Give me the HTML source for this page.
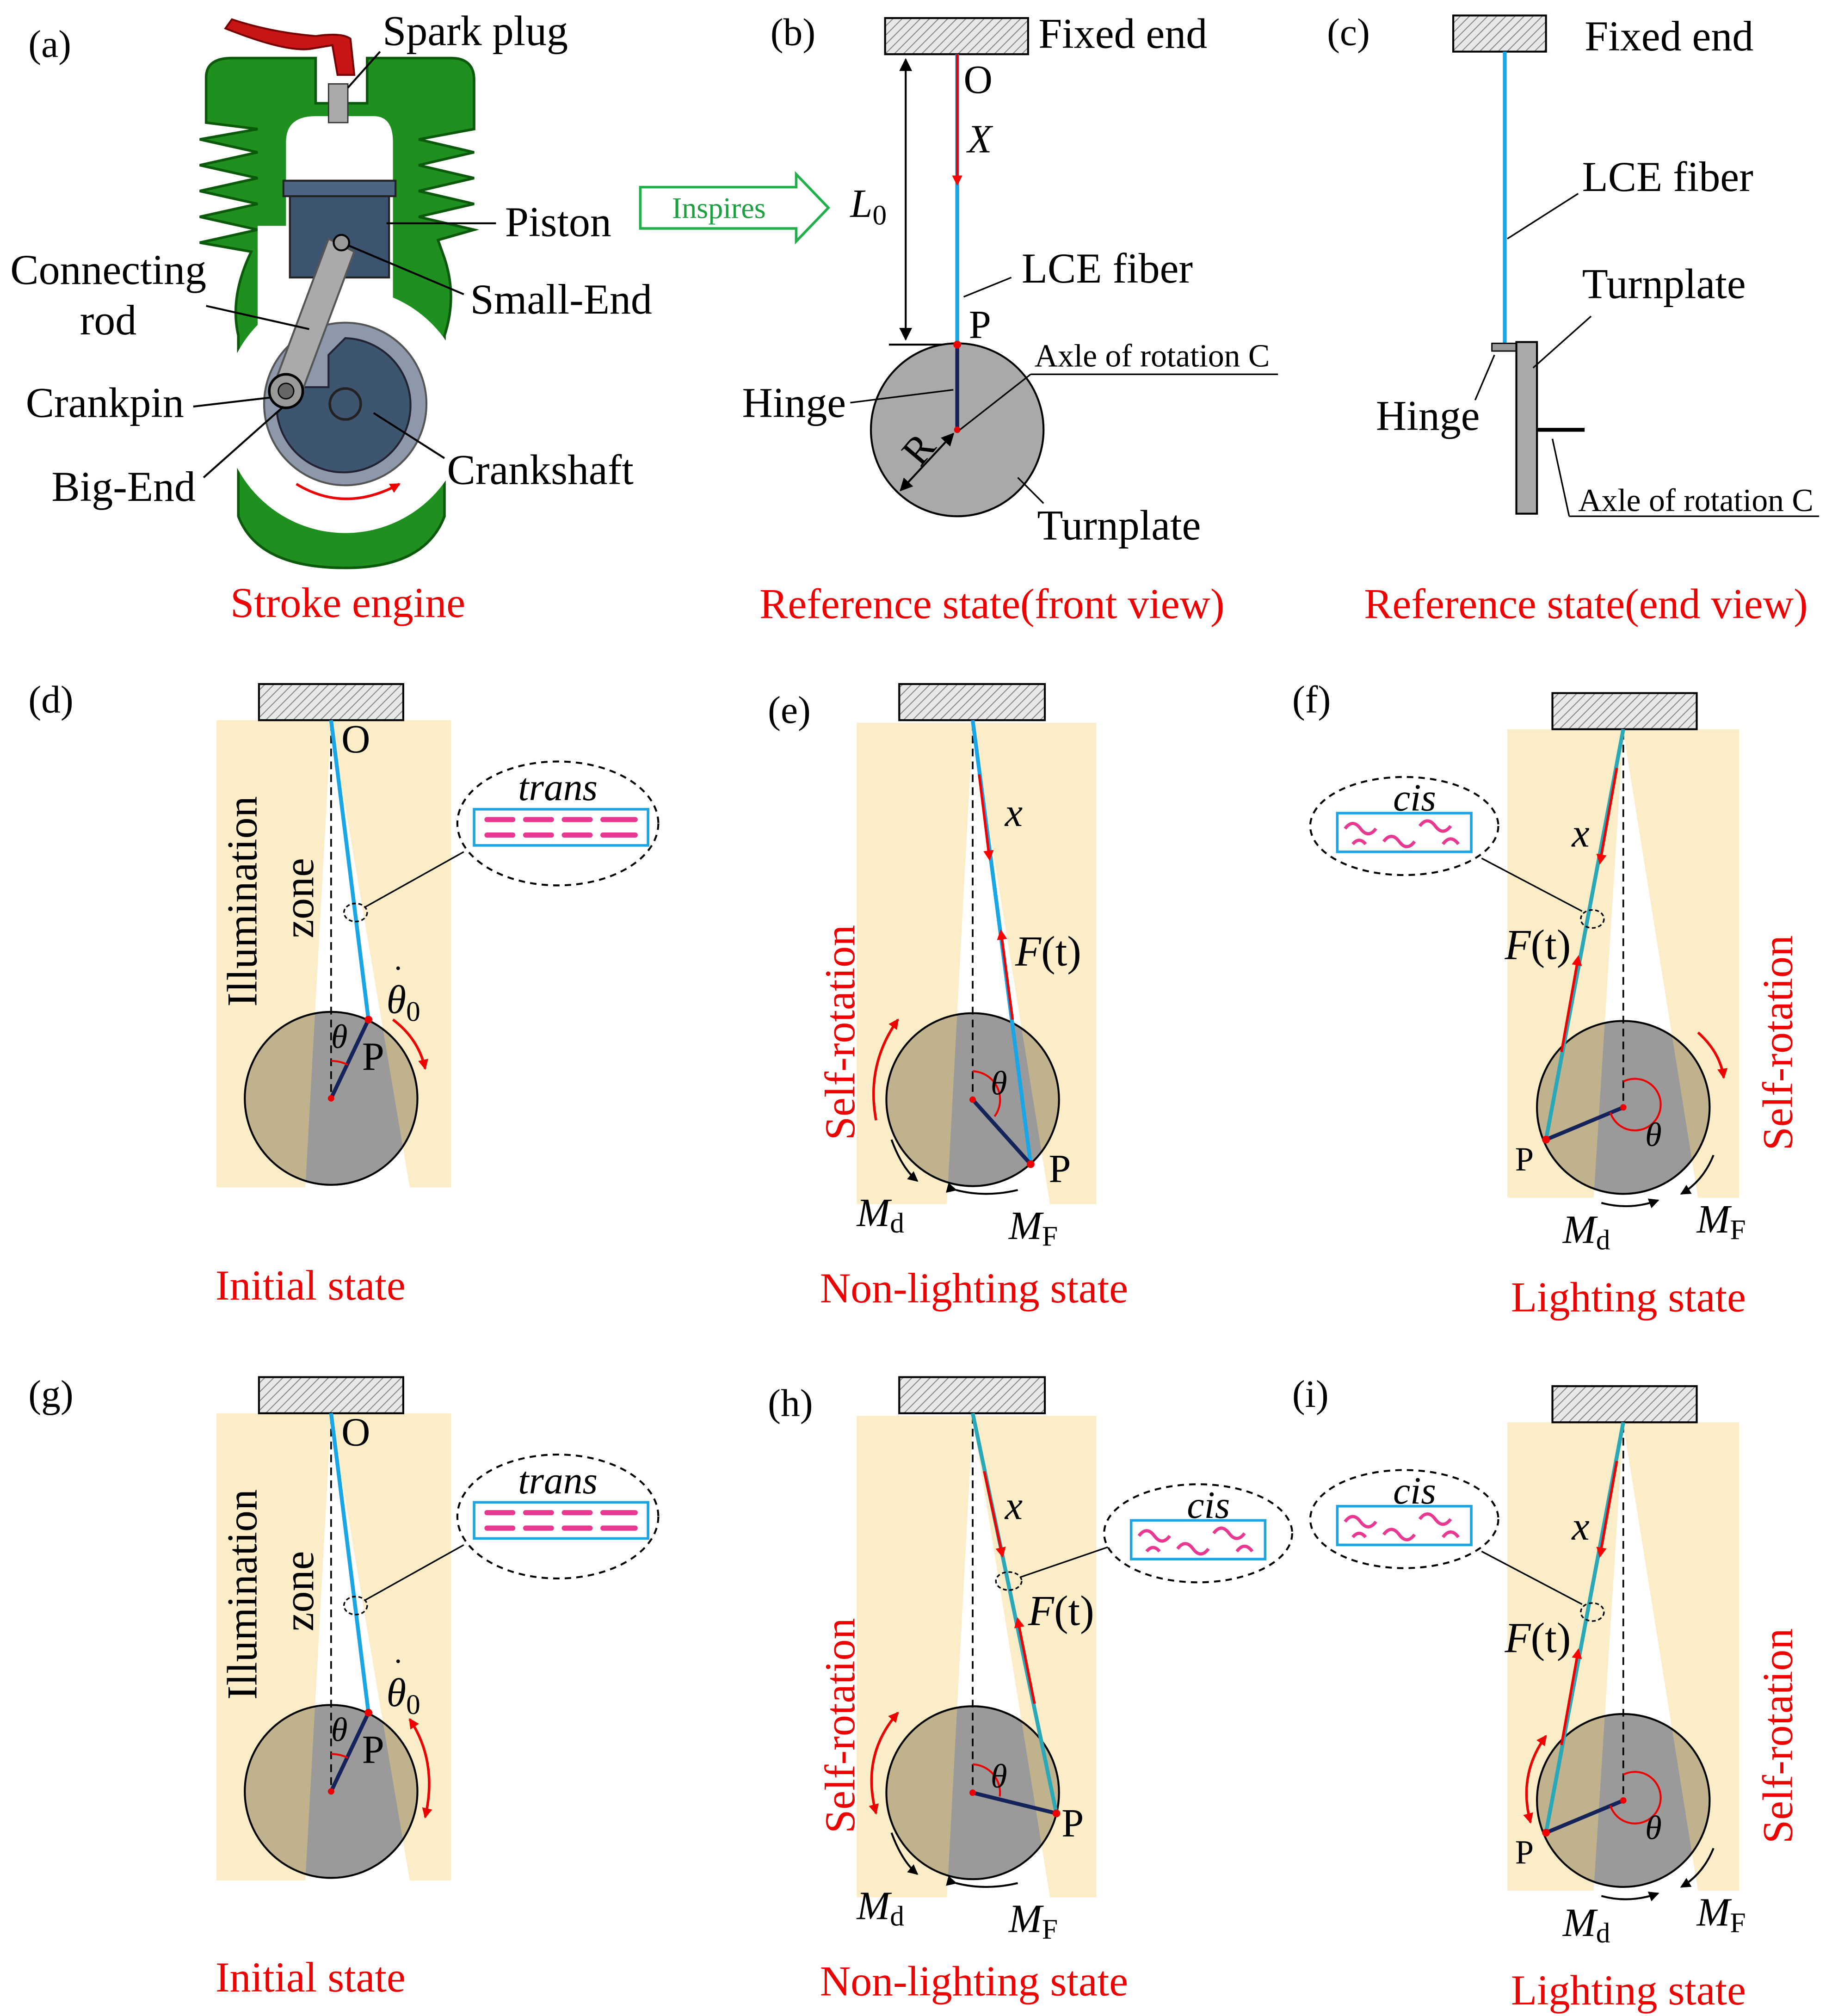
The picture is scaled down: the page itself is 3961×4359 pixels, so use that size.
<!DOCTYPE html>
<html><head><meta charset="utf-8"><style>
html,body{margin:0;padding:0;background:#fff}
svg{display:block}
text{font-family:"Liberation Serif",serif;}
</style></head><body>
<svg width="3961" height="4359" viewBox="0 0 1422 1562" preserveAspectRatio="none" xmlns="http://www.w3.org/2000/svg">
<defs>
<pattern id="hatch" width="5" height="5" patternUnits="userSpaceOnUse" patternTransform="rotate(45)">
<rect width="5" height="5" fill="#e8e8e8"/><line x1="0" y1="0" x2="0" y2="5" stroke="#888" stroke-width="1.5"/></pattern>
<marker id="ar" markerWidth="8" markerHeight="8" refX="6" refY="4" orient="auto" markerUnits="userSpaceOnUse"><path d="M0,0 L8,4 L0,8 z" fill="red"/></marker>
<marker id="ak" markerWidth="10" markerHeight="10" refX="9" refY="5" orient="auto" markerUnits="userSpaceOnUse"><path d="M0,0 L10,5 L0,10 z" fill="#000"/></marker>
<marker id="aks" markerWidth="10" markerHeight="10" refX="1" refY="5" orient="auto" markerUnits="userSpaceOnUse"><path d="M10,0 L0,5 L10,10 z" fill="#000"/></marker>
<marker id="arsm" markerWidth="8" markerHeight="8" refX="7" refY="4" orient="auto" markerUnits="userSpaceOnUse"><path d="M0,0 L8,4 L0,8 z" fill="#e00"/></marker>
<marker id="arss" markerWidth="8" markerHeight="8" refX="1" refY="4" orient="auto" markerUnits="userSpaceOnUse"><path d="M8,0 L0,4 L8,8 z" fill="#e00"/></marker>
<marker id="akm" markerWidth="8" markerHeight="8" refX="7" refY="4" orient="auto" markerUnits="userSpaceOnUse"><path d="M0,0 L8,4 L0,8 z" fill="#000"/></marker>
<g id="trans">
<ellipse cx="0" cy="0" rx="78" ry="48" fill="#fff" stroke="#000" stroke-width="1.5" stroke-dasharray="5,4"/>
<text x="0" y="-18" font-size="30" font-style="italic" text-anchor="middle">trans</text>
<rect x="-65" y="-11" width="135" height="28" fill="#fff" stroke="#19a5e6" stroke-width="2"/>
<g stroke="#e8388f" stroke-width="4" stroke-linecap="round">
<line x1="-55" y1="-3" x2="-35" y2="-3"/><line x1="-25" y1="-3" x2="-5" y2="-3"/><line x1="5" y1="-3" x2="25" y2="-3"/><line x1="35" y1="-3" x2="60" y2="-3"/>
<line x1="-55" y1="9" x2="-35" y2="9"/><line x1="-25" y1="9" x2="-5" y2="9"/><line x1="5" y1="9" x2="25" y2="9"/><line x1="35" y1="9" x2="60" y2="9"/></g>
</g>
<g id="cis">
<ellipse cx="0" cy="0" rx="73" ry="38" fill="#fff" stroke="#000" stroke-width="1.5" stroke-dasharray="5,4"/>
<text x="8" y="-12" font-size="30" font-style="italic" text-anchor="middle">cis</text>
<rect x="-52" y="-10" width="104" height="30" fill="#fff" stroke="#19a5e6" stroke-width="2"/>
<path d="M-46,2 q6,-8 12,0 q6,8 12,0 M-16,12 q6,-8 12,0 q6,8 12,0 M12,0 q6,-8 12,0 q6,8 12,0 M-40,14 q5,-6 10,0 M30,14 q6,-8 12,0" fill="none" stroke="#e8388f" stroke-width="2.5"/>
</g>
</defs>
<rect width="1422" height="1562" fill="#fff"/>

<g font-size="30">
<text x="22" y="44">(a)</text><text x="598" y="35">(b)</text><text x="1030" y="35">(c)</text>
<text x="22" y="552">(d)</text><text x="596" y="560">(e)</text><text x="1003" y="552">(f)</text>
<text x="22" y="1090">(g)</text><text x="596" y="1097">(h)</text><text x="1003" y="1090">(i)</text>
</g>

<!-- (a) engine -->
<g>
<path d="M160,60 Q160,45 180,45 L245,45 L245,80 L285,80 L285,45 L350,45 Q368,45 368,62 L368,100 L325,108 L368,118 L325,128 L368,138 L325,148 L368,158 L325,168 L368,178 L340,186 L345,200 Q355,230 345,260 L345,400 Q330,440 268,440 Q200,440 185,400 L185,260 Q178,230 195,195 L155,188 L200,178 L155,168 L200,158 L155,148 L200,138 L155,128 L200,118 L155,108 L200,100 L160,95 Z" fill="#1f8f1f" stroke="#0b5a0b" stroke-width="2"/>
<path d="M222,110 Q222,90 245,90 L290,90 Q305,90 305,110 L305,250 L222,250 Z" fill="#fff"/>
<circle cx="268" cy="318" r="95" fill="#fff"/>
<rect x="200" y="175" width="50" height="90" fill="#fff"/>
<circle cx="268" cy="313" r="63" fill="#8d98ab" stroke="#555" stroke-width="1.5"/>
<path d="M268,262 A52,52 0 1,1 215,320 L235,300 L255,300 L255,275 Z" fill="#3e5570" stroke="#223" stroke-width="1.5"/>
<circle cx="268" cy="313" r="12" fill="none" stroke="#222" stroke-width="2"/>
<rect x="225" y="140" width="77" height="75" fill="#3c5470" stroke="#222" stroke-width="1.5"/>
<rect x="220" y="140" width="87" height="12" fill="#4a6482" stroke="#222" stroke-width="1.5"/>
<path d="M255,185 L275,195 L232,310 L212,300 Z" fill="#aaaaaa" stroke="#555" stroke-width="1.5"/>
<circle cx="265" cy="188" r="6" fill="#999" stroke="#000" stroke-width="1.5"/>
<circle cx="222" cy="303" r="13" fill="#999" stroke="#000" stroke-width="2"/>
<circle cx="222" cy="303" r="6" fill="#666" stroke="#000" stroke-width="1"/>
<rect x="255" y="65" width="15" height="30" fill="#aaa" stroke="#333"/>
<path d="M175,22 Q220,40 240,38 L258,35 L262,58 L275,58 L272,30 Q265,25 245,28 Q210,25 180,15 Z" fill="#c81414" stroke="#700" stroke-width="1.5"/>
<path d="M230,375 Q268,398 310,375" fill="none" stroke="#e00" stroke-width="2" marker-end="url(#arsm)"/>
</g>
<g font-size="33">
<text x="297" y="35">Spark plug</text><line x1="295" y1="40" x2="270" y2="68" stroke="#000" stroke-width="1.5"/>
<text x="392" y="183">Piston</text><line x1="300" y1="173" x2="385" y2="173" stroke="#000" stroke-width="1.5"/>
<text x="365" y="243">Small-End</text><line x1="270" y1="190" x2="360" y2="228" stroke="#000" stroke-width="1.5"/>
<text x="8" y="220">Connecting</text><text x="62" y="259">rod</text><line x1="160" y1="237" x2="240" y2="255" stroke="#000" stroke-width="1.5"/>
<text x="20" y="323">Crankpin</text><line x1="150" y1="315" x2="210" y2="308" stroke="#000" stroke-width="1.5"/>
<text x="40" y="388">Big-End</text><line x1="158" y1="370" x2="220" y2="315" stroke="#000" stroke-width="1.5"/>
<text x="347" y="375">Crankshaft</text><line x1="290" y1="320" x2="345" y2="355" stroke="#000" stroke-width="1.5"/>
</g>
<path d="M497,145 L618,145 L618,135 L643,161 L618,187 L618,177 L497,177 Z" fill="#fff" stroke="#1fb04a" stroke-width="2"/>
<text x="558" y="169" font-size="23" fill="#1fa040" text-anchor="middle">Inspires</text>

<!-- (b) -->
<rect x="687" y="14" width="111" height="28" fill="url(#hatch)" stroke="#000" stroke-width="1.5"/>
<line x1="743" y1="42" x2="743" y2="267" stroke="#19a5e6" stroke-width="3"/>
<line x1="743" y1="42" x2="743" y2="142" stroke="#e00" stroke-width="2" marker-end="url(#ar)"/>
<line x1="703" y1="46" x2="703" y2="263" stroke="#000" stroke-width="1.5" marker-end="url(#ak)" marker-start="url(#aks)"/>
<line x1="690" y1="267" x2="743" y2="267" stroke="#000" stroke-width="1.5"/>
<circle cx="743" cy="333" r="67" fill="#a9a9a9" stroke="#000" stroke-width="1.5"/>
<line x1="743" y1="267" x2="743" y2="333" stroke="#14245a" stroke-width="3"/>
<circle cx="743" cy="267" r="3" fill="#e00"/><circle cx="743" cy="333" r="2.5" fill="#e00"/>
<line x1="740" y1="336" x2="699" y2="380" stroke="#000" stroke-width="1.5" marker-end="url(#ak)" marker-start="url(#aks)"/>
<line x1="745" y1="333" x2="800" y2="290" stroke="#000" stroke-width="1.2"/><line x1="800" y1="290" x2="992" y2="290" stroke="#000" stroke-width="1.2"/>
<line x1="660" y1="312" x2="740" y2="302" stroke="#000" stroke-width="1.2"/>
<line x1="790" y1="370" x2="810" y2="390" stroke="#000" stroke-width="1.2"/>
<line x1="748" y1="230" x2="785" y2="215" stroke="#000" stroke-width="1.2"/>
<g font-size="33">
<text x="806" y="37">Fixed end</text>
<text x="748" y="72" font-size="31">O</text>
<text x="751" y="118" font-style="italic" font-size="31">X</text>
<text x="660" y="168" font-style="italic" font-size="31">L<tspan font-style="normal" font-size="22" dy="6">0</tspan></text>
<text x="793" y="219">LCE fiber</text>
<text x="752" y="262" font-size="31">P</text>
<text x="576" y="323">Hinge</text>
<text x="803" y="284" font-size="25">Axle of rotation C</text>
<text x="805" y="418">Turnplate</text>
<text x="700" y="358" font-size="31" transform="rotate(-50 712 345)">R</text>
</g>

<!-- (c) -->
<rect x="1128" y="12" width="72" height="28" fill="url(#hatch)" stroke="#000" stroke-width="1.5"/>
<line x1="1168" y1="40" x2="1168" y2="266" stroke="#19a5e6" stroke-width="3"/>
<rect x="1158" y="266" width="20" height="6" fill="#999" stroke="#000" stroke-width="1"/>
<rect x="1177" y="265" width="16" height="133" fill="#a9a9a9" stroke="#000" stroke-width="1.5"/>
<line x1="1193" y1="333" x2="1230" y2="333" stroke="#000" stroke-width="3"/>
<line x1="1170" y1="185" x2="1225" y2="150" stroke="#000" stroke-width="1.2"/>
<line x1="1190" y1="285" x2="1235" y2="245" stroke="#000" stroke-width="1.2"/>
<line x1="1145" y1="310" x2="1160" y2="275" stroke="#000" stroke-width="1.2"/>
<line x1="1205" y1="340" x2="1218" y2="400" stroke="#000" stroke-width="1.2"/><line x1="1218" y1="400" x2="1412" y2="400" stroke="#000" stroke-width="1.2"/>
<g font-size="33">
<text x="1230" y="39">Fixed end</text>
<text x="1228" y="148">LCE fiber</text>
<text x="1228" y="231">Turnplate</text>
<text x="1068" y="333">Hinge</text>
<text x="1225" y="396" font-size="25">Axle of rotation C</text>
</g>

<g font-size="33" fill="#e00" text-anchor="middle">
<text x="270" y="478">Stroke engine</text>
<text x="770" y="479">Reference state(front view)</text>
<text x="1231" y="479">Reference state(end view)</text>
<text x="241" y="1007">Initial state</text>
<text x="756" y="1009">Non-lighting state</text>
<text x="1264" y="1016">Lighting state</text>
<text x="241" y="1543">Initial state</text>
<text x="756" y="1546">Non-lighting state</text>
<text x="1264" y="1553">Lighting state</text>
</g>

<!-- (d) and (g) -->
<g id="pd">
<circle cx="257" cy="851" r="67" fill="#9a9a9a"/>
<path d="M168,558 L350,558 L350,920 L318,920 L257,560 L237,920 L168,920 Z" fill="#f6d57a" fill-opacity="0.42"/>
<circle cx="257" cy="851" r="67" fill="none" stroke="#000" stroke-width="1.5"/>
<rect x="201" y="530" width="112" height="28" fill="url(#hatch)" stroke="#000" stroke-width="1.5"/>
<line x1="257" y1="560" x2="257" y2="851" stroke="#000" stroke-width="1.3" stroke-dasharray="6,4"/>
<line x1="257" y1="558" x2="286" y2="790" stroke="#19a5e6" stroke-width="3"/>
<line x1="257" y1="851" x2="286" y2="790" stroke="#14245a" stroke-width="3"/>
<circle cx="286" cy="790" r="3" fill="#e00"/><circle cx="257" cy="851" r="2.5" fill="#e00"/>
<path d="M257,822 A29,29 0 0,1 270,825" fill="none" stroke="#e00" stroke-width="1.5"/>
<ellipse cx="276" cy="707" rx="9" ry="7" fill="none" stroke="#000" stroke-width="1.2" stroke-dasharray="3,2"/>
<line x1="283" y1="703" x2="360" y2="660" stroke="#000" stroke-width="1.2"/>
<use href="#trans" x="433" y="638"/>
<text x="265" y="583" font-size="31">O</text>
<text x="281" y="829" font-size="31">P</text>
<text x="257" y="812" font-size="26" font-style="italic">θ</text>
<text x="300" y="785" font-size="31" font-style="italic">θ<tspan font-size="22" font-style="normal" dy="6">0</tspan></text>
<text x="305" y="758" font-size="24">·</text>
<text font-size="33" transform="translate(199 780) rotate(-90)">Illumination</text>
<text font-size="33" transform="translate(243 727) rotate(-90)">zone</text>
</g>
<path d="M305,790 Q325,805 330,828" fill="none" stroke="#e00" stroke-width="2" marker-end="url(#arsm)"/>
<use href="#pd" y="537"/>
<path d="M318,1332 Q340,1365 330,1408" fill="none" stroke="#e00" stroke-width="2" marker-end="url(#arsm)" marker-start="url(#arss)"/>

<!-- (e) -->
<g>
<circle cx="755" cy="852" r="67" fill="#9a9a9a"/>
<path d="M665,560 L851,560 L851,933 L815,933 L755,562 L735,933 L665,933 Z" fill="#f6d57a" fill-opacity="0.42"/>
<circle cx="755" cy="852" r="67" fill="none" stroke="#000" stroke-width="1.5"/>
<rect x="698" y="530" width="113" height="28" fill="url(#hatch)" stroke="#000" stroke-width="1.5"/>
<line x1="755" y1="560" x2="755" y2="852" stroke="#000" stroke-width="1.3" stroke-dasharray="6,4"/>
<line x1="755" y1="558" x2="800" y2="902" stroke="#19a5e6" stroke-width="3"/>
<line x1="760" y1="600" x2="768" y2="665" stroke="#e00" stroke-width="2" marker-end="url(#ar)"/>
<line x1="786" y1="790" x2="777" y2="722" stroke="#e00" stroke-width="2" marker-end="url(#ar)"/>
<line x1="755" y1="852" x2="800" y2="902" stroke="#14245a" stroke-width="3"/>
<circle cx="800" cy="902" r="3" fill="#e00"/><circle cx="755" cy="852" r="2.5" fill="#e00"/>
<path d="M755,830 A22,22 0 0,1 772,865" fill="none" stroke="#e00" stroke-width="1.5"/>
<text x="780" y="640" font-size="31" font-style="italic">x</text>
<text x="788" y="748" font-size="33"><tspan font-style="italic">F</tspan>(t)</text>
<text x="769" y="848" font-size="26" font-style="italic">θ</text>
<text x="814" y="916" font-size="31">P</text>
<text font-size="33" fill="#e00" text-anchor="middle" transform="translate(663 800) rotate(-90)">Self-rotation</text>
<path d="M697,790 Q672,825 680,868" fill="none" stroke="#e00" stroke-width="2" marker-start="url(#arss)"/>
<path d="M692,883 Q700,905 712,915" fill="none" stroke="#000" stroke-width="1.5" marker-end="url(#akm)"/>
<path d="M742,922 Q765,928 790,922" fill="none" stroke="#000" stroke-width="1.5" marker-start="url(#akm)"/>
<text x="665" y="950" font-size="31" font-style="italic">M<tspan font-style="normal" font-size="22" dy="5">d</tspan></text>
<text x="783" y="960" font-size="31" font-style="italic">M<tspan font-style="normal" font-size="22" dy="5">F</tspan></text>
</g>

<!-- (h) -->
<g>
<circle cx="755" cy="1389" r="67" fill="#9a9a9a"/>
<path d="M665,1097 L851,1097 L851,1470 L815,1470 L755,1099 L735,1470 L665,1470 Z" fill="#f6d57a" fill-opacity="0.42"/>
<circle cx="755" cy="1389" r="67" fill="none" stroke="#000" stroke-width="1.5"/>
<rect x="698" y="1067" width="113" height="28" fill="url(#hatch)" stroke="#000" stroke-width="1.5"/>
<line x1="755" y1="1097" x2="755" y2="1389" stroke="#000" stroke-width="1.3" stroke-dasharray="6,4"/>
<line x1="755" y1="1095" x2="820" y2="1405" stroke="#2aa8b8" stroke-width="3"/>
<line x1="764" y1="1140" x2="778" y2="1205" stroke="#e00" stroke-width="2" marker-end="url(#ar)"/>
<line x1="803" y1="1320" x2="790" y2="1255" stroke="#e00" stroke-width="2" marker-end="url(#ar)"/>
<line x1="755" y1="1389" x2="820" y2="1405" stroke="#14245a" stroke-width="3"/>
<circle cx="820" cy="1405" r="3" fill="#e00"/><circle cx="755" cy="1389" r="2.5" fill="#e00"/>
<path d="M755,1367 A22,22 0 0,1 776,1392" fill="none" stroke="#e00" stroke-width="1.5"/>
<ellipse cx="783" cy="1225" rx="10" ry="7" fill="none" stroke="#000" stroke-width="1.2" stroke-dasharray="3,2"/>
<line x1="792" y1="1222" x2="862" y2="1198" stroke="#000" stroke-width="1.2"/>
<use href="#cis" x="930" y="1188"/>
<text x="780" y="1177" font-size="31" font-style="italic">x</text>
<text x="798" y="1259" font-size="33"><tspan font-style="italic">F</tspan>(t)</text>
<text x="769" y="1385" font-size="26" font-style="italic">θ</text>
<text x="824" y="1423" font-size="31">P</text>
<text font-size="33" fill="#e00" text-anchor="middle" transform="translate(663 1337) rotate(-90)">Self-rotation</text>
<path d="M697,1327 Q668,1360 680,1405" fill="none" stroke="#e00" stroke-width="2" marker-start="url(#arss)" marker-end="url(#arsm)"/>
<path d="M692,1420 Q700,1442 712,1452" fill="none" stroke="#000" stroke-width="1.5" marker-end="url(#akm)"/>
<path d="M742,1459 Q765,1465 790,1459" fill="none" stroke="#000" stroke-width="1.5" marker-start="url(#akm)"/>
<text x="665" y="1487" font-size="31" font-style="italic">M<tspan font-style="normal" font-size="22" dy="5">d</tspan></text>
<text x="783" y="1497" font-size="31" font-style="italic">M<tspan font-style="normal" font-size="22" dy="5">F</tspan></text>
</g>

<!-- (f) and (i) -->
<g id="pf">
<circle cx="1260" cy="858" r="67" fill="#9a9a9a"/>
<path d="M1170,565 L1350,565 L1350,928 L1318,928 L1260,567 L1237,928 L1170,928 Z" fill="#f6d57a" fill-opacity="0.42"/>
<circle cx="1260" cy="858" r="67" fill="none" stroke="#000" stroke-width="1.5"/>
<rect x="1205" y="537" width="112" height="28" fill="url(#hatch)" stroke="#000" stroke-width="1.5"/>
<line x1="1260" y1="567" x2="1260" y2="858" stroke="#000" stroke-width="1.3" stroke-dasharray="6,4"/>
<line x1="1260" y1="565" x2="1200" y2="883" stroke="#2aa8b8" stroke-width="3"/>
<line x1="1255" y1="595" x2="1242" y2="668" stroke="#e00" stroke-width="2" marker-end="url(#ar)"/>
<line x1="1212" y1="815" x2="1225" y2="742" stroke="#e00" stroke-width="2" marker-end="url(#ar)"/>
<line x1="1260" y1="858" x2="1200" y2="883" stroke="#14245a" stroke-width="3"/>
<circle cx="1200" cy="883" r="3" fill="#e00"/><circle cx="1260" cy="858" r="2.5" fill="#e00"/>
<path d="M1260,838 A20,20 0 1,1 1250,862" fill="none" stroke="#e00" stroke-width="1.5"/>
<ellipse cx="1236" cy="712" rx="9" ry="7" fill="none" stroke="#000" stroke-width="1.2" stroke-dasharray="3,2"/>
<line x1="1228" y1="706" x2="1150" y2="665" stroke="#000" stroke-width="1.2"/>
<use href="#cis" x="1090" y="640"/>
<text x="1220" y="656" font-size="31" font-style="italic">x</text>
<text x="1168" y="743" font-size="33"><tspan font-style="italic">F</tspan>(t)</text>
<text x="1277" y="888" font-size="26" font-style="italic">θ</text>
<text x="1176" y="907" font-size="26">P</text>
<text font-size="33" fill="#e00" text-anchor="middle" transform="translate(1391 808) rotate(-90)">Self-rotation</text>
<path d="M1243,932 Q1265,938 1287,930" fill="none" stroke="#000" stroke-width="1.5" marker-end="url(#akm)"/>
<path d="M1330,895 Q1322,915 1305,925" fill="none" stroke="#000" stroke-width="1.5" marker-end="url(#akm)"/>
<text x="1213" y="963" font-size="31" font-style="italic">M<tspan font-style="normal" font-size="22" dy="5">d</tspan></text>
<text x="1317" y="955" font-size="31" font-style="italic">M<tspan font-style="normal" font-size="22" dy="5">F</tspan></text>
</g>
<path d="M1318,800 Q1335,815 1338,835" fill="none" stroke="#e00" stroke-width="2" marker-end="url(#arsm)"/>
<use href="#pf" y="537"/>
<path d="M1200,1345 Q1178,1375 1188,1412" fill="none" stroke="#e00" stroke-width="2" marker-start="url(#arss)" marker-end="url(#arsm)"/>
</svg>
</body></html>
